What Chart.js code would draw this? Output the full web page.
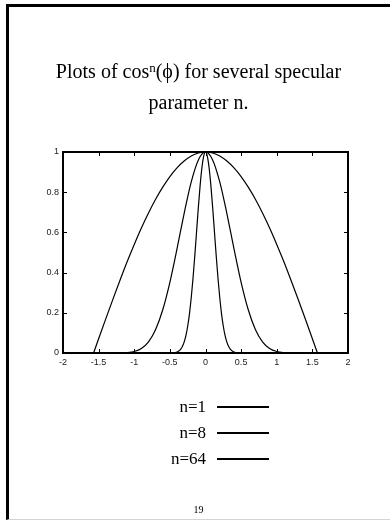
<!DOCTYPE html>
<html>
<head>
<meta charset="utf-8">
<script src="https://cdn.jsdelivr.net/npm/chart.js@4/dist/chart.umd.min.js"></script>
<style>
  html, body { margin: 0; padding: 0; background: #fff; }
  body { width: 390px; height: 521px; position: relative; overflow: hidden; }
  #frame {
    position: absolute; left: 6px; top: 4px; width: 420px; height: 512px;
    border-left: 3px solid #000; border-top: 3px solid #000; border-bottom: 1px solid #d4d4d4;
  }
  #plot { position: absolute; left: 0; top: 0; }
  #title {
    position: absolute; left: 0; top: 57px; width: 397px; text-align: center;
    font-family: "Liberation Serif", "Times New Roman", serif; font-size: 20px; line-height: 28px; color: #000;
  }
  #title sup { font-size: 13px; vertical-align: baseline; position: relative; top: -0.5em; }
  #legend { position: absolute; left: 0; top: 394px; }
  .row { position: relative; height: 26px; font-family: "Liberation Serif", "Times New Roman", serif; font-size: 17px; line-height: 26px; color: #000; }
  .row .lab { position: absolute; left: 130px; width: 76px; text-align: right; white-space: nowrap; }
  .row .swatch { position: absolute; left: 217px; top: 12px; width: 52px; height: 2px; background: #000; }
  #page {
    position: absolute; left: 0; top: 504px; width: 397px; text-align: center;
    font-family: "Liberation Serif", "Times New Roman", serif; font-size: 10px; line-height: 12px; color: #000;
  }
</style>
</head>
<body>
<div id="frame"></div>
<canvas id="plot" width="390" height="521"></canvas>
<div id="title">Plots of cos<sup>n</sup>(ϕ) for several specular<br>parameter n.</div>
<div id="legend"></div>
<div id="page">19</div>
<script>
// Angle phi (radians) and the specular term cos^n(phi) for each exponent
const phi1 = [-1.5708, -1.5, -1.4, -1.3, -1.2, -1.1, -1.0, -0.9, -0.8, -0.7, -0.6, -0.5, -0.4, -0.3, -0.2, -0.1, 0,
              0.1, 0.2, 0.3, 0.4, 0.5, 0.6, 0.7, 0.8, 0.9, 1.0, 1.1, 1.2, 1.3, 1.4, 1.5, 1.5708];
const cosN1 = [0, 0.071, 0.170, 0.267, 0.362, 0.454, 0.540, 0.622, 0.697, 0.765, 0.825, 0.878, 0.921, 0.955, 0.980, 0.995, 1,
               0.995, 0.980, 0.955, 0.921, 0.878, 0.825, 0.765, 0.697, 0.622, 0.540, 0.454, 0.362, 0.267, 0.170, 0.071, 0];

const phi8 = [-1.5708, -1.5, -1.4, -1.3, -1.2, -1.1, -1.0, -0.9, -0.8, -0.7, -0.6, -0.5, -0.4, -0.3, -0.2, -0.1, 0,
              0.1, 0.2, 0.3, 0.4, 0.5, 0.6, 0.7, 0.8, 0.9, 1.0, 1.1, 1.2, 1.3, 1.4, 1.5, 1.5708];
const cosN8 = [0, 0, 0, 0, 0.0003, 0.0018, 0.0073, 0.0223, 0.0555, 0.1171, 0.2153, 0.3518, 0.5180, 0.6939, 0.8512, 0.9607, 1,
               0.9607, 0.8512, 0.6939, 0.5180, 0.3518, 0.2153, 0.1171, 0.0555, 0.0223, 0.0073, 0.0018, 0.0003, 0, 0, 0, 0];

const phi64 = [-0.5, -0.45, -0.4, -0.375, -0.35, -0.325, -0.3, -0.275, -0.25, -0.225, -0.2, -0.175, -0.15, -0.125, -0.1, -0.075, -0.05, -0.025, 0,
               0.025, 0.05, 0.075, 0.1, 0.125, 0.15, 0.175, 0.2, 0.225, 0.25, 0.275, 0.3, 0.325, 0.35, 0.375, 0.4, 0.45, 0.5];
const cosN64 = [0, 0.001, 0.005, 0.010, 0.018, 0.032, 0.054, 0.086, 0.133, 0.195, 0.276, 0.373, 0.485, 0.606, 0.726, 0.835, 0.923, 0.980, 1,
                0.980, 0.923, 0.835, 0.726, 0.606, 0.485, 0.373, 0.276, 0.195, 0.133, 0.086, 0.054, 0.032, 0.018, 0.010, 0.005, 0.001, 0];

const seriesLabels = ['n=1', 'n=8', 'n=64'];
const xTickLabels = ['-2', '-1.5', '-1', '-0.5', '0', '0.5', '1', '1.5', '2'];
const yTickLabels = ['0', '0.2', '0.4', '0.6', '0.8', '1'];

const toPoints = (xs, ys) => xs.map((x, i) => ({ x: x, y: ys[i] }));

// Box around the plot with inward tick marks on all four sides
const boxedAxes = {
  id: 'boxedAxes',
  afterDraw(chart) {
    const { ctx, chartArea: a, scales } = chart;
    const len = 4;
    ctx.save();
    ctx.strokeStyle = '#000';
    ctx.lineWidth = 1;
    ctx.beginPath();
    scales.x.ticks.forEach(t => {
      const px = Math.round(scales.x.getPixelForValue(t.value)) + 0.5;
      ctx.moveTo(px, a.bottom); ctx.lineTo(px, a.bottom - len);
      ctx.moveTo(px, a.top); ctx.lineTo(px, a.top + len);
    });
    scales.y.ticks.forEach(t => {
      const py = Math.round(scales.y.getPixelForValue(t.value)) + 0.5;
      ctx.moveTo(a.left, py); ctx.lineTo(a.left + len, py);
      ctx.moveTo(a.right, py); ctx.lineTo(a.right - len, py);
    });
    ctx.stroke();
    ctx.lineWidth = 2;
    ctx.strokeRect(a.left, a.top, a.right - a.left, a.bottom - a.top);
    ctx.restore();
  }
};

const tickFont = { family: '"Liberation Sans", Arial, sans-serif', size: 9 };

const chart = new Chart(document.getElementById('plot'), {
  type: 'line',
  data: {
    datasets: [
      { label: seriesLabels[0], data: toPoints(phi1, cosN1) },
      { label: seriesLabels[1], data: toPoints(phi8, cosN8) },
      { label: seriesLabels[2], data: toPoints(phi64, cosN64) }
    ].map(d => Object.assign(d, {
      borderColor: '#000', borderWidth: 1.2, pointRadius: 0, fill: false,
      cubicInterpolationMode: 'monotone'
    }))
  },
  options: {
    responsive: false,
    animation: false,
    devicePixelRatio: 1,
    layout: { padding: { left: 33, right: 42, top: 152, bottom: 148 } },
    plugins: { legend: { display: false }, tooltip: { enabled: false }, title: { display: false } },
    scales: {
      x: {
        type: 'linear', min: -2, max: 2,
        afterFit: s => { s.height = 20; },
        grid: { display: false, drawTicks: false },
        border: { display: false },
        ticks: { stepSize: 0.5, padding: 4, font: tickFont, color: '#222', maxRotation: 0,
                 callback: (v, i) => xTickLabels[i] }
      },
      y: {
        type: 'linear', min: 0, max: 1,
        afterFit: s => { s.width = 30; },
        grid: { display: false, drawTicks: false },
        border: { display: false },
        ticks: { stepSize: 0.2, padding: 4, font: tickFont, color: '#222',
                 callback: (v, i) => yTickLabels[i] }
      }
    }
  },
  plugins: [boxedAxes]
});

// Legend rows: label on the left, line sample on the right
const legend = document.getElementById('legend');
chart.data.datasets.forEach(ds => {
  const row = document.createElement('div');
  row.className = 'row';
  const lab = document.createElement('span');
  lab.className = 'lab';
  lab.textContent = ds.label;
  const sw = document.createElement('span');
  sw.className = 'swatch';
  sw.style.background = ds.borderColor;
  row.appendChild(lab);
  row.appendChild(sw);
  legend.appendChild(row);
});
</script>
</body>
</html>
